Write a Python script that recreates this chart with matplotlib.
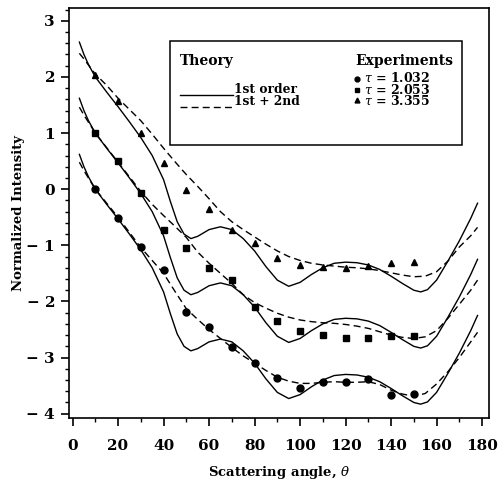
import numpy as np
import matplotlib.pyplot as plt
from matplotlib.ticker import MultipleLocator, FuncFormatter
from matplotlib.lines import Line2D

plt.rcParams['font.family'] = ['DejaVu Serif']
plt.rcParams['mathtext.fontset'] = 'dejavuserif'

# measured angles (deg) and normalized intensities, curves offset by 1 per tau
theta_exp = [10, 20, 30, 40, 50, 60, 70, 80, 90, 100, 110, 120, 130, 140, 150]
exp_tau1 = [0.00, -0.52, -1.03, -1.44, -2.19, -2.46, -2.82, -3.10, -3.37, -3.55,
            -3.44, -3.44, -3.39, -3.67, -3.65]
exp_tau2 = [1.00, 0.51, -0.07, -0.72, -1.04, -1.41, -1.61, -2.10, -2.35, -2.53,
            -2.60, -2.65, -2.66, -2.62, -2.62]
exp_tau3 = [2.03, 1.57, 1.00, 0.46, -0.02, -0.36, -0.72, -0.96, -1.23, -1.35,
            -1.39, -1.41, -1.37, -1.31, -1.30]

# first order theory (same shape for all tau, shifted by the offsets)
theta_first = [3, 5, 7, 10, 15, 20, 25, 30, 35, 40, 43, 46, 49, 52, 55, 60, 65,
               70, 75, 80, 85, 90, 95, 100, 105, 110, 115, 120, 125, 130, 135,
               140, 145, 150, 153, 156, 160, 165, 170, 175, 178]
first_order = [0.62, 0.40, 0.22, 0.00, -0.27, -0.53, -0.80, -1.08, -1.40, -1.83,
               -2.22, -2.58, -2.80, -2.88, -2.84, -2.72, -2.67, -2.72, -2.88,
               -3.10, -3.38, -3.62, -3.73, -3.66, -3.52, -3.40, -3.32, -3.30,
               -3.31, -3.35, -3.43, -3.55, -3.68, -3.80, -3.83, -3.79, -3.62,
               -3.28, -2.92, -2.52, -2.25]
offsets = [0, 1, 2]

# first + second order theory
theta_second = [3, 5, 10, 15, 20, 25, 30, 35, 40, 45, 50, 55, 60, 65, 70, 75, 80,
                85, 90, 95, 100, 105, 110, 115, 120, 125, 130, 135, 140, 145, 150,
                155, 160, 165, 170, 175, 178]
second_tau1 = [0.48, 0.33, 0.00, -0.25, -0.50, -0.77, -1.04, -1.27, -1.50, -1.82,
               -2.13, -2.32, -2.50, -2.66, -2.82, -2.97, -3.10, -3.23, -3.35,
               -3.42, -3.46, -3.46, -3.44, -3.43, -3.44, -3.44, -3.43, -3.48,
               -3.58, -3.65, -3.69, -3.64, -3.47, -3.25, -3.00, -2.72, -2.55]
second_tau2 = [1.46, 1.32, 1.00, 0.74, 0.48, 0.22, -0.04, -0.27, -0.47, -0.66,
               -0.86, -1.12, -1.32, -1.50, -1.68, -1.88, -2.02, -2.12, -2.21,
               -2.28, -2.33, -2.36, -2.38, -2.39, -2.41, -2.44, -2.48, -2.54,
               -2.60, -2.64, -2.66, -2.63, -2.52, -2.30, -2.05, -1.80, -1.62]
second_tau3 = [2.42, 2.32, 2.05, 1.85, 1.62, 1.42, 1.22, 0.98, 0.73, 0.49, 0.26,
               0.05, -0.17, -0.40, -0.58, -0.72, -0.85, -0.98, -1.10, -1.20,
               -1.27, -1.32, -1.35, -1.37, -1.39, -1.40, -1.42, -1.45, -1.49,
               -1.53, -1.56, -1.55, -1.47, -1.28, -1.03, -0.83, -0.68]

tau_labels = [r'$\tau$ = 1.032', r'$\tau$ = 2.053', r'$\tau$ = 3.355']
markers = ['o', 's', '^']

fig = plt.figure(figsize=(5.03, 4.92), dpi=100)
ax = fig.add_axes([0.137, 0.150, 0.835, 0.834])

for off in offsets:
    ax.plot(theta_first, np.array(first_order) + off, color='black', lw=1.0)

for ys in (second_tau1, second_tau2, second_tau3):
    ax.plot(theta_second, ys, color='black', lw=1.0, ls=(0, (5, 3)))

for ys, m in zip((exp_tau1, exp_tau2, exp_tau3), markers):
    ax.plot(theta_exp, ys, ls='none', marker=m, color='black', ms=5)

ax.set_xlim(-1.6, 183)
ax.set_ylim(-4.08, 3.23)
ax.xaxis.set_major_locator(MultipleLocator(20))
ax.xaxis.set_minor_locator(MultipleLocator(10))
ax.yaxis.set_major_locator(MultipleLocator(1))
ax.yaxis.set_minor_locator(MultipleLocator(0.2))
ax.yaxis.set_major_formatter(FuncFormatter(
    lambda v, _: f'{int(v)}' if v >= 0 else f'\u2212 {abs(int(v))}'))
ax.tick_params(axis='both', which='major', direction='out', length=6,
               width=1.2, labelsize=11)
ax.tick_params(axis='both', which='minor', direction='out', length=3, width=1)
ax.tick_params(axis='x', pad=9)
ax.tick_params(axis='y', pad=4)
for lab in ax.get_xticklabels() + ax.get_yticklabels():
    lab.set_fontweight('bold')
for sp in ax.spines.values():
    sp.set_linewidth(1.2)

ax.set_xlabel(r'Scattering angle, $\theta$', fontsize=9.5, fontweight='bold',
              labelpad=8)
ax.set_ylabel('Normalized Intensity', fontsize=9.5, fontweight='bold',
              labelpad=1)

# legend box
ax.add_patch(plt.Rectangle((0.2405, 0.666), 0.695, 0.2535, transform=ax.transAxes,
                           fill=False, lw=1.1, color='black', zorder=5))
ax.text(0.264, 0.871, 'Theory', transform=ax.transAxes, fontsize=10,
        va='center', fontweight='bold')
ax.add_line(Line2D([0.264, 0.390], [0.788, 0.788], transform=ax.transAxes,
                   color='black', lw=1.0))
ax.add_line(Line2D([0.264, 0.390], [0.7585, 0.7585], transform=ax.transAxes,
                   color='black', lw=1.0, ls=(0, (5, 3))))
ax.text(0.393, 0.800, '1st order', transform=ax.transAxes, fontsize=8.8,
        va='center', fontweight='bold')
ax.text(0.393, 0.771, '1st + 2nd', transform=ax.transAxes, fontsize=8.8,
        va='center', fontweight='bold')
ax.text(0.683, 0.871, 'Experiments', transform=ax.transAxes, fontsize=10,
        va='center', fontweight='bold')
for i, m in enumerate(markers):
    ax.plot([0.686], [0.826 - i * 0.025], marker=m, color='black', ms=3.5,
            transform=ax.transAxes)
ax.text(0.703, 0.801, '\n'.join(tau_labels), transform=ax.transAxes,
        fontsize=9, va='center', fontweight='bold', linespacing=0.78)

fig.savefig('out.png', dpi=100)
